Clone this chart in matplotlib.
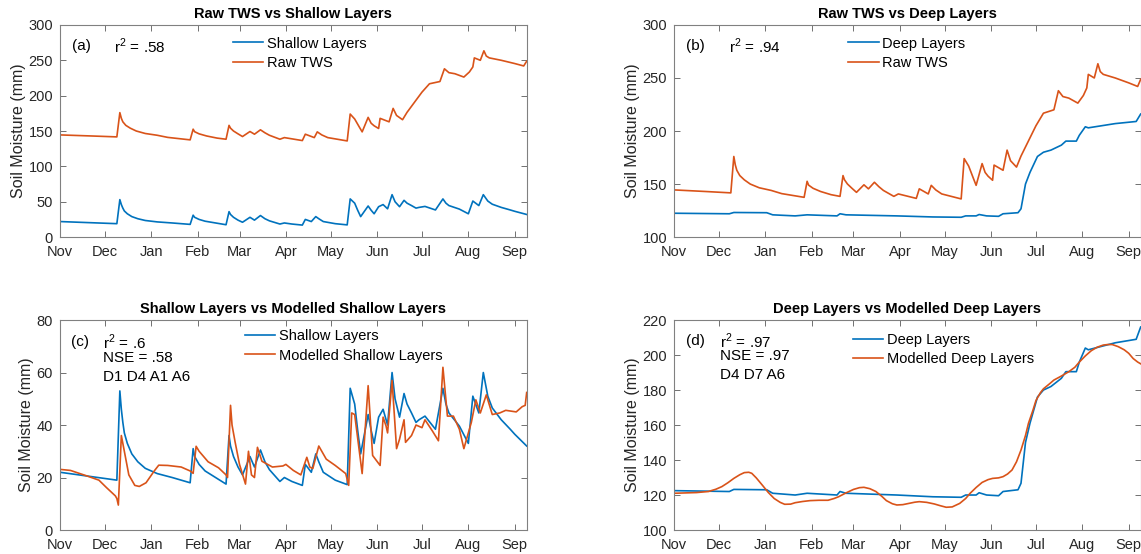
import numpy as np
import matplotlib
matplotlib.use('Agg')
import matplotlib.pyplot as plt

plt.rcParams['font.family'] = ['Liberation Sans', 'DejaVu Sans']
plt.rcParams['mathtext.fontset'] = 'custom'
plt.rcParams['mathtext.rm'] = 'Liberation Sans'

# days counted from 1 Nov
month_days = [0, 30, 61, 92, 120, 151, 181, 212, 242, 273, 304]
month_labels = ['Nov', 'Dec', 'Jan', 'Feb', 'Mar', 'Apr', 'May', 'Jun', 'Jul', 'Aug', 'Sep']

# shallow layers (mm)
shallow_days = [0, 38, 40, 41, 42, 43, 45, 48, 52, 57, 65, 75, 87, 89, 90, 93, 97, 104, 111, 113,
                114, 116, 119, 122, 127, 130, 134, 137, 140, 147, 150, 155, 162, 164, 168, 171, 173,
                176, 184, 192, 194, 197, 199, 201, 206, 208, 210, 213, 216, 219, 222, 224, 227, 230,
                232, 235, 238, 240, 244, 251, 256, 258, 260, 267, 273, 276, 280, 283, 285, 286, 289,
                295, 301, 304, 312]
shallow_vals = [22, 19, 53, 46, 41, 37, 33, 29, 26, 23.5, 21.5, 20, 18, 31, 28, 25, 22.5, 20, 17.5,
                36, 32, 28, 24, 21, 28, 24, 30.5, 26, 23, 18.5, 20, 18.5, 17, 25, 22, 29, 26,
                22, 19, 17.3, 54, 48, 38, 29, 44, 38, 33, 43, 46, 40, 60, 50, 43, 52, 48, 44.6, 41,
                42, 43.4, 38.4, 54, 48, 44.6, 39.6, 33, 51, 44.6, 60, 54, 51, 46.5, 42, 38.4, 36.5,
                32]

# raw TWS (mm)
tws_days = [0, 21, 38, 40, 41, 42, 44, 47, 51, 57, 65, 72, 87, 89, 90, 93, 98, 105, 111, 113, 114,
            116, 119, 122, 127, 130, 134, 137, 140, 147, 150, 162, 164, 170, 172, 175, 179, 192, 194,
            197, 200, 202, 206, 208, 210, 213, 214, 220, 222.7, 225, 229, 232, 237, 242, 247, 254,
            257, 260, 264, 270, 273.7, 276, 277, 281, 283.4, 285, 287, 295, 304, 310, 312]
tws_vals = [144.5, 143, 141.7, 176, 168, 163, 158, 154, 150, 146.5, 144, 141, 137.5, 152.6, 149,
            146, 143, 140, 138.4, 158, 154, 150, 146, 142.2, 149.3, 145.5, 151.7, 147.5, 144, 138.4,
            140.7, 136.5, 145.5, 140.7, 148.8, 144.5, 140.7, 136, 174, 167, 156, 148.8, 169.3,
            161, 157.4, 153.6, 167.9, 163, 182, 172, 166, 176.4, 190.7, 205, 216.8, 220, 238,
            232.5, 231, 226.3, 233.5, 240.6, 253.4, 250, 263.4, 256, 253.4, 250, 245.4, 242, 248.7]

# deep layers (mm)
deep_days = [0, 37, 40, 62, 66, 81, 89, 109, 111, 115, 149, 173, 192, 195, 202, 204, 209, 217,
             220, 230, 232, 235, 238, 243, 247, 252, 259, 262, 269, 271, 275, 277, 286, 295, 309, 312]
deep_vals = [122.5, 122, 123.2, 123, 121, 120, 121, 120, 122, 121, 120, 119, 118.7, 120, 120,
             121.3, 120, 119.6, 122, 123, 126.7, 150, 161, 176, 180, 182, 186.7, 190.5, 190.5, 196,
             204, 203, 205, 207, 209, 216]

# modelled shallow layers (mm)
mshallow_days = [0, 7, 18, 26, 31, 37, 38, 39, 41, 42, 44, 46, 50, 53, 57.5, 63, 66, 72, 81, 87,
                 89, 91, 93, 96, 99, 106, 111, 112, 114, 115, 117, 120, 124, 126, 128, 130, 132,
                 135, 142, 149, 151, 156, 161, 165, 167, 169, 173, 178, 184, 191, 193, 195, 197, 202,
                 206, 209, 214, 216, 218, 219, 222, 225, 227, 230, 231, 235, 238, 242, 244, 249,
                 253, 256, 259, 263, 267, 270, 275, 278, 281, 285, 289, 294, 298, 305, 309, 311, 312]
mshallow_vals = [23.1, 22.7, 20.6, 19, 16.2, 13, 12, 9.5, 36, 33, 27, 21, 17, 16.6, 18, 22.5, 24.7,
                 24.6, 24, 22.5, 21.6, 31.9, 30, 28, 26, 23.7, 21, 20, 47.5, 40, 33.7, 25, 17.5, 30,
                 21, 20, 31.5, 26.2, 24, 24.4, 25, 22.7, 21, 27.7, 24, 23.4, 32, 27, 24.6, 21.5,
                 17, 44.6, 44, 21.5, 55, 28.4, 24.6, 43, 39.6, 37, 57, 31, 34.6, 42, 33.4, 36, 40,
                 39, 42, 37.7, 34, 62, 43.4, 43.4, 38.4, 31, 41, 49.6, 44.6, 51.5, 44, 44.6, 45.6,
                 45, 47, 47.5, 52.4]

# modelled deep layers (mm)
mdeep_days = [0, 15, 23, 28, 32, 36, 40, 44, 47, 50, 52, 55, 59, 63, 67, 71, 74, 78, 81, 86, 91,
              97, 103, 107, 110, 115, 120, 124, 127, 131, 135, 139, 142, 146, 149, 153, 157, 161,
              164, 169, 174, 178, 182, 186, 191, 195, 198, 202, 206, 210, 213, 217, 220, 223, 226,
              229, 232, 235, 237, 240, 242, 245, 247, 251, 254, 259, 264, 268, 271, 275, 279, 283,
              287, 290, 293, 297, 301, 304, 307, 310, 312]
mdeep_vals = [121, 121.4, 122, 123.3, 124.8, 127, 129.5, 131.6, 132.8, 133, 132.4, 129.8, 125.7,
              121.5, 118, 115.8, 114.7, 114.8, 115.6, 116.3, 116.8, 117, 117, 118, 119, 121.2,
              123.2, 124.2, 124.4, 123.6, 122, 119.2, 116.8, 115, 114.3, 114.5, 115.2, 115.9,
              116.2, 115.8, 114.9, 113.9, 113, 113.2, 115.2, 118, 121, 124.3, 127.2, 128.8, 129.5,
              129.8, 130.5, 132, 134.3, 139, 145.7, 154, 161, 168.5, 174, 178.5, 180.7, 183.5,
              185.7, 188, 190.5, 193, 196, 199.5, 202.5, 204.5, 205.7, 206, 206, 204.8, 203,
              201, 198, 196, 195]

blue = '#0072BD'
orange = '#D95319'

fig = plt.figure(figsize=(11.41, 5.54), dpi=100)

def style_axes(ax, ylim, yticks, title):
    ax.set_xlim(0, 312)
    ax.set_ylim(*ylim)
    ax.set_xticks(month_days)
    ax.set_xticklabels(month_labels)
    ax.set_yticks(yticks)
    ax.tick_params(direction='in', length=4, width=0.7, top=True, right=True,
                   labelsize=10.5, colors='#707070', labelcolor='#262626')
    ax.tick_params(axis='x', pad=6)
    ax.tick_params(axis='y', pad=5)
    for s in ax.spines.values():
        s.set_color('#808080')
        s.set_linewidth(0.8)
    ax.set_title(title, fontsize=10.5, fontweight='bold', pad=5)
    ax.set_ylabel('Soil Moisture (mm)', fontsize=11.5, color='#262626', labelpad=2)

def add_legend(ax, x, y):
    ax.legend(loc='upper left', bbox_to_anchor=(x, y), frameon=False, fontsize=10.5,
              handlelength=2.1, handletextpad=0.25, labelspacing=0.35, borderpad=0,
              borderaxespad=0)

# (a)
ax1 = fig.add_axes([0.0526, 0.572, 0.409, 0.383])
ax1.plot(shallow_days, shallow_vals, color=blue, lw=1.2, label='Shallow Layers')
ax1.plot(tws_days, tws_vals, color=orange, lw=1.2, label='Raw TWS')
style_axes(ax1, (0, 300), range(0, 301, 50), 'Raw TWS vs Shallow Layers')
add_legend(ax1, 0.37, 0.945)
ax1.text(0.025, 0.90, '(a)', transform=ax1.transAxes, fontsize=11, va='center')
ax1.text(0.116, 0.90, r'r$^{\mathregular{2}}$ = .58', transform=ax1.transAxes, fontsize=11, va='center')

# (b)
ax2 = fig.add_axes([0.5907, 0.572, 0.409, 0.383])
ax2.plot(deep_days, deep_vals, color=blue, lw=1.2, label='Deep Layers')
ax2.plot(tws_days, tws_vals, color=orange, lw=1.2, label='Raw TWS')
style_axes(ax2, (100, 300), range(100, 301, 50), 'Raw TWS vs Deep Layers')
add_legend(ax2, 0.373, 0.945)
ax2.text(0.025, 0.90, '(b)', transform=ax2.transAxes, fontsize=11, va='center')
ax2.text(0.118, 0.90, r'r$^{\mathregular{2}}$ = .94', transform=ax2.transAxes, fontsize=11, va='center')

# (c)
ax3 = fig.add_axes([0.0526, 0.0433, 0.409, 0.379])
ax3.plot(shallow_days, shallow_vals, color=blue, lw=1.2, label='Shallow Layers')
ax3.plot(mshallow_days, mshallow_vals, color=orange, lw=1.2, label='Modelled Shallow Layers')
style_axes(ax3, (0, 80), range(0, 81, 20), 'Shallow Layers vs Modelled Shallow Layers')
add_legend(ax3, 0.396, 0.955)
ax3.text(0.023, 0.895, '(c)', transform=ax3.transAxes, fontsize=11, va='center')
ax3.text(0.092, 0.895, r'r$^{\mathregular{2}}$ = .6', transform=ax3.transAxes, fontsize=11, va='center')
ax3.text(0.092, 0.82, 'NSE = .58', transform=ax3.transAxes, fontsize=11, va='center')
ax3.text(0.092, 0.73, 'D1 D4 A1 A6', transform=ax3.transAxes, fontsize=11, va='center')

# (d)
ax4 = fig.add_axes([0.5907, 0.0433, 0.409, 0.379])
ax4.plot(deep_days, deep_vals, color=blue, lw=1.2, label='Deep Layers')
ax4.plot(mdeep_days, mdeep_vals, color=orange, lw=1.2, label='Modelled Deep Layers')
style_axes(ax4, (100, 220), range(100, 221, 20), 'Deep Layers vs Modelled Deep Layers')
add_legend(ax4, 0.383, 0.94)
ax4.text(0.025, 0.9, '(d)', transform=ax4.transAxes, fontsize=11, va='center')
ax4.text(0.0985, 0.9, r'r$^{\mathregular{2}}$ = .97', transform=ax4.transAxes, fontsize=11, va='center')
ax4.text(0.0985, 0.83, 'NSE = .97', transform=ax4.transAxes, fontsize=11, va='center')
ax4.text(0.0985, 0.74, 'D4 D7 A6', transform=ax4.transAxes, fontsize=11, va='center')

fig.savefig('out.png', dpi=100)
